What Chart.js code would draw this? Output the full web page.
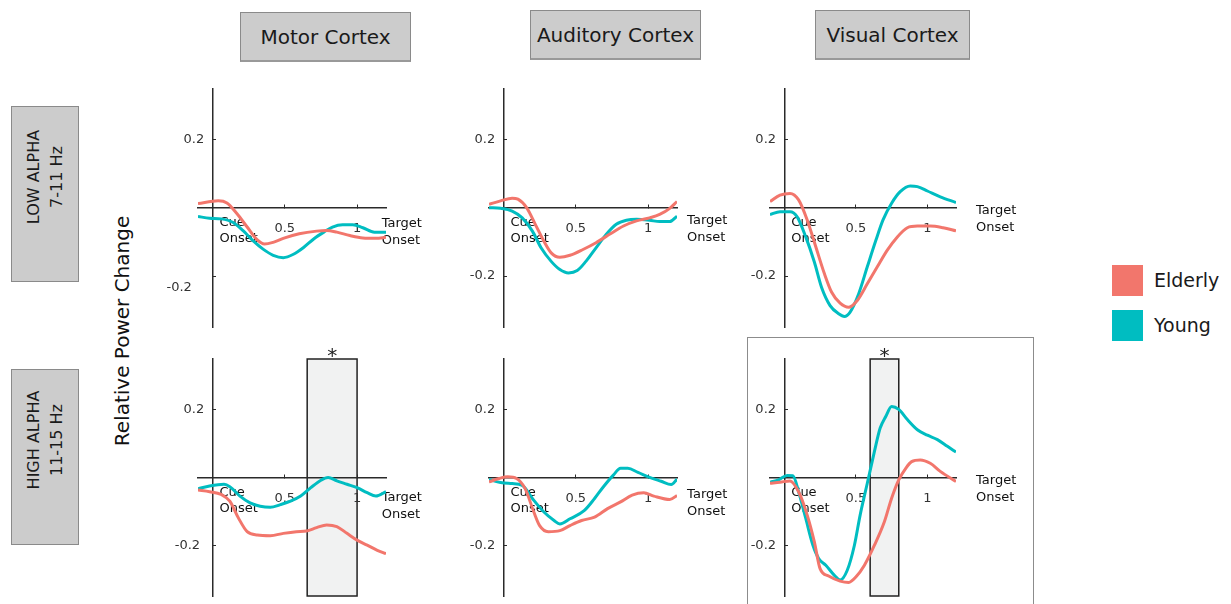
<!DOCTYPE html>
<html><head><meta charset="utf-8">
<script src="https://cdn.jsdelivr.net/npm/chart.js@4.4.1/dist/chart.umd.min.js"></script>
<style>
html,body{margin:0;padding:0;background:#fff;width:1231px;height:604px;overflow:hidden;position:relative;font-family:"DejaVu Sans",sans-serif;}
.hdr{position:absolute;background:#cccccc;border:1px solid #8a8a8a;border-bottom:2px solid #999;box-sizing:border-box;display:flex;align-items:center;justify-content:center;font-size:20px;color:#1a1a1a;}
.band{position:absolute;background:#cccccc;border:1px solid #8a8a8a;box-sizing:border-box;}
.band div{position:absolute;left:50%;top:calc(50% - 17px);transform:translate(-50%,-50%) rotate(-90deg);white-space:nowrap;text-align:center;font-size:16px;line-height:23px;color:#1a1a1a;}
.ytitle{position:absolute;left:122px;top:331px;transform:translate(-50%,-50%) rotate(-90deg);white-space:nowrap;font-size:20px;color:#111;}
.frame{position:absolute;left:747px;top:337px;width:287px;height:300px;border:1px solid #8c8c8c;box-sizing:border-box;}
.lkey{position:absolute;width:31px;height:31px;}
.ltxt{position:absolute;font-size:19px;color:#1a1a1a;line-height:31px;}
canvas{position:absolute;}
</style>
</head>
<body>
<script>
// ---------- labels ----------
const regions = ['Motor Cortex', 'Auditory Cortex', 'Visual Cortex'];
const bands = [['LOW ALPHA', '7-11 Hz'], ['HIGH ALPHA', '11-15 Hz']];
const seriesNames = ['Elderly', 'Young'];
const yTitle = 'Relative Power Change';
const xTickValues = [0.5, 1];
const xTickLabels = ['0.5', '1'];
const yTickValues = [-0.2, 0.2];
const yTickLabels = ['-0.2', '0.2'];
const cueLabel = ['Cue', 'Onset'];
const targetLabel = ['Target', 'Onset'];

// ---------- data (time in s, relative power change) ----------
const motorLowElderlyT = [-0.10, 0.04, 0.10, 0.17, 0.24, 0.31, 0.36, 0.42, 0.50, 0.60, 0.72, 0.79, 0.86, 0.95, 1.04, 1.13, 1.20];
const motorLowElderlyV = [0.013, 0.021, 0.015, -0.017, -0.056, -0.094, -0.106, -0.101, -0.088, -0.076, -0.068, -0.066, -0.071, -0.081, -0.088, -0.089, -0.086];
const motorLowYoungT = [-0.10, -0.02, 0.06, 0.14, 0.21, 0.28, 0.35, 0.42, 0.49, 0.56, 0.63, 0.70, 0.77, 0.83, 0.90, 0.97, 1.04, 1.12, 1.20];
const motorLowYoungV = [-0.025, -0.030, -0.032, -0.042, -0.066, -0.096, -0.121, -0.139, -0.146, -0.136, -0.116, -0.091, -0.071, -0.056, -0.049, -0.049, -0.058, -0.071, -0.071];

const audLowElderlyT = [-0.10, -0.02, 0.06, 0.10, 0.16, 0.22, 0.28, 0.33, 0.39, 0.46, 0.55, 0.64, 0.74, 0.83, 0.92, 1.01, 1.08, 1.15, 1.20];
const audLowElderlyV = [0.011, 0.021, 0.029, 0.026, 0.001, -0.048, -0.098, -0.132, -0.145, -0.139, -0.122, -0.102, -0.076, -0.053, -0.038, -0.029, -0.019, -0.001, 0.019];
const audLowYoungT = [-0.10, -0.02, 0.06, 0.13, 0.20, 0.26, 0.33, 0.39, 0.45, 0.51, 0.57, 0.64, 0.71, 0.78, 0.85, 0.92, 1.01, 1.08, 1.15, 1.20];
const audLowYoungV = [0.001, -0.001, -0.009, -0.029, -0.068, -0.117, -0.157, -0.181, -0.191, -0.184, -0.157, -0.117, -0.078, -0.048, -0.036, -0.033, -0.036, -0.040, -0.040, -0.024];

const visLowElderlyT = [-0.10, -0.03, 0.04, 0.10, 0.16, 0.22, 0.28, 0.33, 0.39, 0.45, 0.51, 0.58, 0.65, 0.72, 0.79, 0.86, 0.93, 1.02, 1.11, 1.20];
const visLowElderlyV = [0.019, 0.038, 0.043, 0.024, -0.035, -0.114, -0.193, -0.247, -0.280, -0.292, -0.272, -0.223, -0.173, -0.124, -0.085, -0.058, -0.053, -0.053, -0.058, -0.067];
const visLowYoungT = [-0.10, -0.03, 0.04, 0.09, 0.15, 0.21, 0.26, 0.32, 0.38, 0.42, 0.46, 0.52, 0.58, 0.64, 0.69, 0.75, 0.81, 0.88, 0.93, 1.00, 1.09, 1.20];
const visLowYoungV = [-0.019, -0.011, -0.011, -0.026, -0.085, -0.159, -0.233, -0.287, -0.311, -0.319, -0.306, -0.252, -0.173, -0.095, -0.035, 0.014, 0.048, 0.065, 0.063, 0.050, 0.033, 0.016];

const motorHighElderlyT = [-0.10, -0.02, 0.06, 0.12, 0.18, 0.24, 0.31, 0.40, 0.49, 0.58, 0.65, 0.72, 0.79, 0.86, 0.93, 1.00, 1.07, 1.14, 1.20];
const motorHighElderlyV = [-0.037, -0.042, -0.050, -0.070, -0.120, -0.160, -0.170, -0.172, -0.165, -0.160, -0.158, -0.148, -0.140, -0.145, -0.165, -0.185, -0.200, -0.215, -0.225];
const motorHighYoungT = [-0.10, -0.02, 0.08, 0.12, 0.19, 0.26, 0.33, 0.40, 0.47, 0.54, 0.61, 0.68, 0.75, 0.80, 0.86, 0.93, 1.00, 1.07, 1.13, 1.20];
const motorHighYoungV = [-0.033, -0.025, -0.020, -0.027, -0.055, -0.075, -0.085, -0.088, -0.080, -0.070, -0.055, -0.030, -0.008, 0.000, -0.010, -0.020, -0.030, -0.045, -0.055, -0.042];

const audHighElderlyT = [-0.10, -0.03, 0.03, 0.09, 0.15, 0.21, 0.25, 0.31, 0.39, 0.46, 0.54, 0.63, 0.72, 0.81, 0.89, 0.97, 1.04, 1.15, 1.20];
const audHighElderlyV = [-0.013, -0.003, 0.002, -0.003, -0.033, -0.102, -0.142, -0.160, -0.157, -0.142, -0.127, -0.117, -0.092, -0.072, -0.052, -0.045, -0.055, -0.065, -0.053];
const audHighYoungT = [-0.10, -0.02, 0.06, 0.13, 0.20, 0.28, 0.35, 0.39, 0.46, 0.56, 0.63, 0.69, 0.76, 0.81, 0.86, 0.93, 1.02, 1.09, 1.16, 1.20];
const audHighYoungV = [-0.006, -0.015, -0.018, -0.023, -0.062, -0.102, -0.127, -0.137, -0.122, -0.097, -0.062, -0.028, 0.007, 0.027, 0.027, 0.015, -0.001, -0.011, -0.021, -0.005];

const visHighElderlyT = [-0.10, -0.03, 0.04, 0.10, 0.16, 0.21, 0.25, 0.31, 0.39, 0.45, 0.50, 0.56, 0.63, 0.70, 0.75, 0.80, 0.85, 0.89, 0.95, 1.02, 1.09, 1.20];
const visHighElderlyV = [-0.017, -0.014, -0.010, -0.042, -0.111, -0.190, -0.269, -0.291, -0.306, -0.310, -0.294, -0.259, -0.200, -0.130, -0.061, -0.007, 0.028, 0.047, 0.052, 0.042, 0.018, -0.012];
const visHighYoungT = [-0.10, -0.04, 0.02, 0.06, 0.10, 0.15, 0.20, 0.24, 0.29, 0.35, 0.39, 0.44, 0.49, 0.53, 0.58, 0.63, 0.67, 0.71, 0.75, 0.80, 0.86, 0.93, 1.00, 1.07, 1.14, 1.20];
const visHighYoungV = [-0.014, -0.007, 0.006, 0.005, -0.042, -0.121, -0.200, -0.239, -0.259, -0.289, -0.303, -0.274, -0.200, -0.111, -0.017, 0.077, 0.146, 0.181, 0.210, 0.201, 0.171, 0.141, 0.125, 0.112, 0.092, 0.075];

// significant windows (s)
const motorHighSignificant = [0.655, 1.0];
const visHighSignificant = [0.6, 0.8];

// ---------- styles / layout ----------
const COLORS = ['#F2766C', '#00BDC1'];
const FONT = '"DejaVu Sans", sans-serif';
const COLS = [{left: 198, width: 188}, {left: 489, width: 188}, {left: 770, width: 186}];
const ROWS = [{top: 89, height: 238}, {top: 359, height: 237}];
const PAD = {left: 45, right: 80, top: 35, bottom: 32};
// target label anchors per panel, in data units [t, v]
const TARGET_POS = [
  [[1.17, -0.047], [1.27, -0.038], [1.34, -0.009]],
  [[1.17, -0.060], [1.27, -0.050], [1.34, -0.009]]
];
// y tick label placement per panel: [trailing spaces for negative label, line height of tick font]
const YLABEL_STYLE = [
  [[5, 1.85], [2, 1.2], [2, 1.2]],
  [[3, 1.2], [2, 1.2], [2, 1.2]]
];

const panels = [
  [ {e: [motorLowElderlyT, motorLowElderlyV], y: [motorLowYoungT, motorLowYoungV], sig: null},
    {e: [audLowElderlyT, audLowElderlyV], y: [audLowYoungT, audLowYoungV], sig: null},
    {e: [visLowElderlyT, visLowElderlyV], y: [visLowYoungT, visLowYoungV], sig: null} ],
  [ {e: [motorHighElderlyT, motorHighElderlyV], y: [motorHighYoungT, motorHighYoungV], sig: motorHighSignificant},
    {e: [audHighElderlyT, audHighElderlyV], y: [audHighYoungT, audHighYoungV], sig: null},
    {e: [visHighElderlyT, visHighElderlyV], y: [visHighYoungT, visHighYoungV], sig: visHighSignificant} ]
];

// ---------- static HTML parts ----------
const HDR_BOX = [{l: 240, t: 12, w: 171, h: 50}, {l: 530, t: 10, w: 171, h: 50}, {l: 815, t: 10, w: 155, h: 50}];
regions.forEach((r, i) => {
  const d = document.createElement('div'); d.className = 'hdr';
  const b = HDR_BOX[i];
  Object.assign(d.style, {left: b.l + 'px', top: b.t + 'px', width: b.w + 'px', height: b.h + 'px'});
  d.textContent = r; document.body.appendChild(d);
});
const BAND_BOX = [{l: 11, t: 106, w: 68, h: 176}, {l: 11, t: 369, w: 68, h: 176}];
bands.forEach((bl, i) => {
  const d = document.createElement('div'); d.className = 'band';
  const b = BAND_BOX[i];
  Object.assign(d.style, {left: b.l + 'px', top: b.t + 'px', width: b.w + 'px', height: b.h + 'px'});
  const t = document.createElement('div');
  bl.forEach((line, k) => { if (k) t.appendChild(document.createElement('br')); t.appendChild(document.createTextNode(line)); });
  d.appendChild(t); document.body.appendChild(d);
});
{
  const d = document.createElement('div'); d.className = 'ytitle'; d.textContent = yTitle; document.body.appendChild(d);
  const f = document.createElement('div'); f.className = 'frame'; document.body.appendChild(f);
}
seriesNames.forEach((n, i) => {
  const top = 265 + i * 45;
  const k = document.createElement('div'); k.className = 'lkey';
  Object.assign(k.style, {left: '1112px', top: top + 'px', background: COLORS[i]});
  const t = document.createElement('div'); t.className = 'ltxt';
  Object.assign(t.style, {left: '1154px', top: top + 'px'});
  t.textContent = n;
  document.body.appendChild(k); document.body.appendChild(t);
});

// ---------- plugin for annotations ----------
const overlay = {
  id: 'overlay',
  beforeDraw(chart, args, o) {
    if (!o.sig) return;
    const {ctx, scales: {x, y}} = chart;
    const x1 = x.getPixelForValue(o.sig[0]), x2 = x.getPixelForValue(o.sig[1]);
    const y1 = y.getPixelForValue(y.max), y2 = y.getPixelForValue(y.min);
    ctx.save();
    ctx.fillStyle = '#f1f2f2';
    ctx.fillRect(x1, y1, x2 - x1, y2 - y1);
    ctx.strokeStyle = '#222'; ctx.lineWidth = 1.5;
    ctx.strokeRect(x1, y1, x2 - x1, y2 - y1);
    ctx.fillStyle = '#222'; ctx.font = '20px ' + FONT;
    ctx.textAlign = 'center'; ctx.textBaseline = 'alphabetic';
    ctx.fillText('*', (x1 + x2) / 2, y1 + 3);
    ctx.restore();
  },
  beforeDatasetsDraw(chart, args, o) {
    const {ctx, scales: {x, y}} = chart;
    ctx.save();
    ctx.fillStyle = '#111'; ctx.font = '13px ' + FONT;
    ctx.textAlign = 'left'; ctx.textBaseline = 'middle';
    const cx = x.getPixelForValue(0) + 7, cy = y.getPixelForValue(0) + 15;
    cueLabel.forEach((s, i) => ctx.fillText(s, cx, cy + i * 16));
    const tx = x.getPixelForValue(o.target[0]), ty = y.getPixelForValue(o.target[1]);
    targetLabel.forEach((s, i) => ctx.fillText(s, tx, ty + i * 17));
    ctx.restore();
  }
};

function toPts(tv) { return tv[0].map((t, i) => ({x: t, y: tv[1][i]})); }

panels.forEach((row, r) => row.forEach((p, c) => {
  const cv = document.createElement('canvas');
  const W = PAD.left + COLS[c].width + PAD.right, H = PAD.top + ROWS[r].height + PAD.bottom;
  cv.width = W; cv.height = H;
  Object.assign(cv.style, {left: (COLS[c].left - PAD.left) + 'px', top: (ROWS[r].top - PAD.top) + 'px', width: W + 'px', height: H + 'px'});
  document.body.appendChild(cv);
  const [negSpaces, yLineH] = YLABEL_STYLE[r][c];
  const axisCommon = {
    type: 'linear',
    border: {display: true, color: '#2a2a2a', width: 1.5},
    grid: {drawOnChartArea: false, drawTicks: true, tickLength: -4, color: '#2a2a2a', lineWidth: 1}
  };
  new Chart(cv, {
    type: 'line',
    data: {datasets: [
      {label: seriesNames[0], data: toPts(p.e), borderColor: COLORS[0], borderWidth: 3, pointRadius: 0, cubicInterpolationMode: 'monotone'},
      {label: seriesNames[1], data: toPts(p.y), borderColor: COLORS[1], borderWidth: 3, pointRadius: 0, cubicInterpolationMode: 'monotone'}
    ]},
    options: {
      responsive: false, animation: false, devicePixelRatio: 1,
      layout: {padding: {left: PAD.left, right: PAD.right, top: PAD.top, bottom: PAD.bottom}},
      plugins: {legend: {display: false}, tooltip: {enabled: false},
                overlay: {sig: p.sig, target: TARGET_POS[r][c]}},
      scales: {
        x: Object.assign({}, axisCommon, {
          min: -0.1, max: 1.2, position: {y: 0},
          ticks: {autoSkip: false, maxRotation: 0, padding: 17, color: '#333', font: {family: FONT, size: 13},
                  callback: (v, i) => xTickLabels[i]},
          afterBuildTicks: s => { s.ticks = xTickValues.map(v => ({value: v})); }
        }),
        y: Object.assign({}, axisCommon, {
          min: -0.35, max: 0.35, position: {x: 0},
          ticks: {autoSkip: false, padding: 0, color: '#333', font: {family: FONT, size: 13, lineHeight: yLineH},
                  callback: (v, i) => yTickValues[i] < 0
                    ? (yLineH > 1.5 ? ['', yTickLabels[i] + ' '.repeat(negSpaces)] : yTickLabels[i] + ' '.repeat(negSpaces))
                    : yTickLabels[i] + '  '},
          afterBuildTicks: s => { s.ticks = yTickValues.map(v => ({value: v})); }
        })
      }
    },
    plugins: [overlay]
  });
}));
</script>
</body></html>
